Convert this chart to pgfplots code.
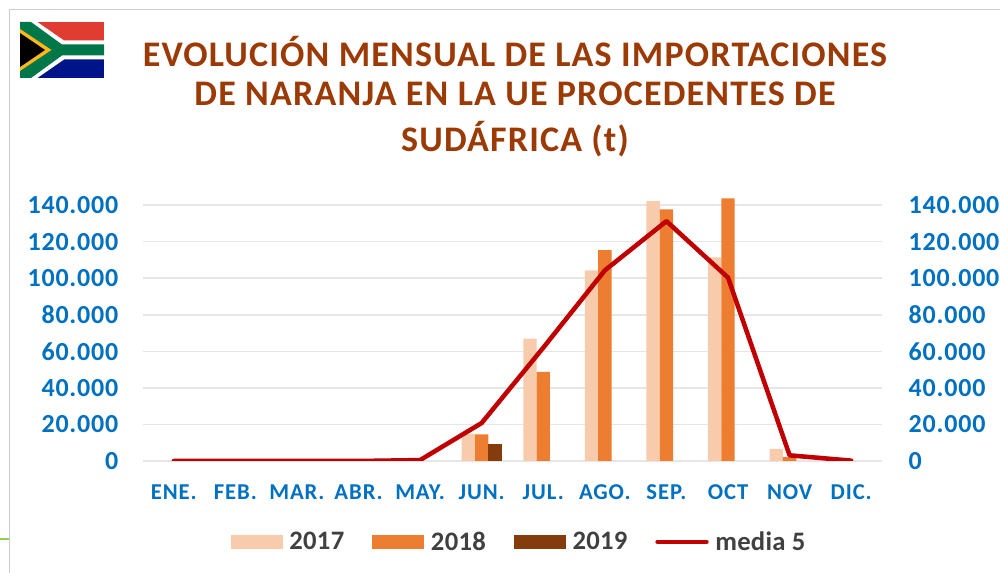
\documentclass[border=0pt]{standalone}
\usepackage{fontspec}
\setmainfont{Carlito}
\usepackage{pgfplots}
\pgfplotsset{compat=1.18}
\definecolor{azul}{HTML}{0070C0}
\definecolor{titulo}{HTML}{9C3A06}
\definecolor{claro}{HTML}{F8CBAD}
\definecolor{naranja}{HTML}{ED7D31}
\definecolor{marron}{HTML}{843C0C}
\definecolor{media}{HTML}{C00000}
\definecolor{rejilla}{HTML}{E6E6E6}
\definecolor{texto}{HTML}{404040}
\definecolor{vrojo}{HTML}{E03C31}
\definecolor{vazul}{HTML}{001489}
\definecolor{vverde}{HTML}{007749}
\definecolor{voro}{HTML}{FFB81C}
\definecolor{vlinea}{HTML}{92D050}
\newcommand{\ftitulo}{\fontsize{27pt}{30pt}\bfseries\addfontfeatures{LetterSpace=3.3}}
\newcommand{\fy}{\fontsize{19.5pt}{22pt}\bfseries\addfontfeatures{LetterSpace=3}}
\newcommand{\fx}{\fontsize{17pt}{20pt}\bfseries\addfontfeatures{LetterSpace=4}}
\pgfplotsset{
  panel/.style={
    at={(107.25pt,-345.75pt)}, anchor=south west,
    scale only axis, width=554.25pt, height=198.8pt,
    xmin=-0.5, xmax=11.5, ymin=0, ymax=145000,
    ytick={0,20000,40000,60000,80000,100000,120000,140000},
    yticklabels={0,20.000,40.000,60.000,80.000,100.000,120.000,140.000},
    scaled y ticks=false,
    major tick length=0pt,
  },
  barra/.style={legend image code/.code={
    \fill[#1] (-2pt,-5.5pt) rectangle (37pt,5.5pt);}},
}
\begin{document}
\begin{tikzpicture}[x=0.75pt,y=-0.75pt]
\path[use as bounding box] (0,0) rectangle (1000,573);

% marco
\draw[color=black!20, line width=0.9pt] (9.5,573) -- (9.5,9.5) -- (1000,9.5);
\draw[color=vlinea, line width=1.2pt] (0,539) -- (9,539);

% bandera
\fill[vrojo] (20,22) rectangle (104,50);
\fill[vazul] (20,50) rectangle (104,78);
\fill[white] (20,22) -- (37.3,22) -- (64,40.5) -- (104,40.5) -- (104,59.5) -- (64,59.5) -- (37.3,78) -- (20,78) -- cycle;
\fill[vverde] (20,22) -- (31,22) -- (62,44.5) -- (104,44.5) -- (104,55.5) -- (62,55.5) -- (31,78) -- (20,78) -- cycle;
\fill[voro] (20,29) -- (51.5,50) -- (20,71) -- cycle;
\fill[black] (20,33) -- (45,50) -- (20,67) -- cycle;

% titulo
\node[text=titulo, font=\ftitulo, anchor=center] at (515,52) {EVOLUCIÓN MENSUAL DE LAS IMPORTACIONES};
\node[text=titulo, font=\ftitulo, anchor=center] at (515,94) {DE NARANJA EN LA UE PROCEDENTES DE};
\node[text=titulo, font=\ftitulo, anchor=center] at (515,139) {SUDÁFRICA (t)};

\begin{axis}[
  panel,
  axis x line*=bottom, axis y line*=left,
  y axis line style={draw=none},
  x axis line style={draw=rejilla, line width=1.2pt},
  ymajorgrids,
  grid style={rejilla, line width=1.2pt},
  xtick={0,...,11},
  xticklabels={ENE.,FEB.,MAR.,ABR.,MAY.,JUN.,JUL.,AGO.,SEP.,OCT,NOV,DIC.},
  xticklabel style={text=azul, font=\fx, yshift=-14pt},
  yticklabel style={text=azul, font=\fy, xshift=-15pt},
  legend style={at={(0.113,-0.305)}, anchor=west, draw=none, fill=none,
    legend columns=4, font=\fontsize{20pt}{22pt}\bfseries\color{texto}\addfontfeatures{LetterSpace=1},
    /tikz/every odd column/.append style={column sep=3pt},
    /tikz/every even column/.append style={column sep=19pt}},
  legend cell align=left,
]
\addplot[ybar, bar width=10pt, bar shift=-10pt, draw=none, fill=claro, barra={claro}] coordinates {
  (5,15000) (6,66900) (7,104300) (8,142200) (9,111400) (10,6700)
};
\addlegendentry{2017}
\addplot[ybar, bar width=10pt, bar shift=0pt, draw=none, fill=naranja, barra={naranja}] coordinates {
  (5,14600) (6,48700) (7,115400) (8,137600) (9,143600) (10,2200)
};
\addlegendentry{2018}
\addplot[ybar, bar width=10pt, bar shift=10pt, draw=none, fill=marron, barra={marron}] coordinates {
  (5,9500)
};
\addlegendentry{2019}
\addplot[sharp plot, media, line width=3.4pt, line cap=round, line join=round,
  legend image code/.code={\draw[media, line width=3pt, line cap=round] (-1.5pt,0pt) -- (35.5pt,0pt);}] coordinates {
  (0,0) (1,0) (2,0) (3,0) (4,500) (5,20800) (6,62000) (7,104300) (8,131200) (9,100300) (10,3100) (11,200)
};
\addlegendentry{media 5}
\end{axis}

\begin{axis}[
  panel,
  axis x line=none,
  axis y line*=right,
  y axis line style={draw=none},
  yticklabel style={text=azul, font=\fy, xshift=16.5pt},
]
\addplot[draw=none] coordinates {(0,0) (11,0)};
\end{axis}
\end{tikzpicture}
\end{document}
